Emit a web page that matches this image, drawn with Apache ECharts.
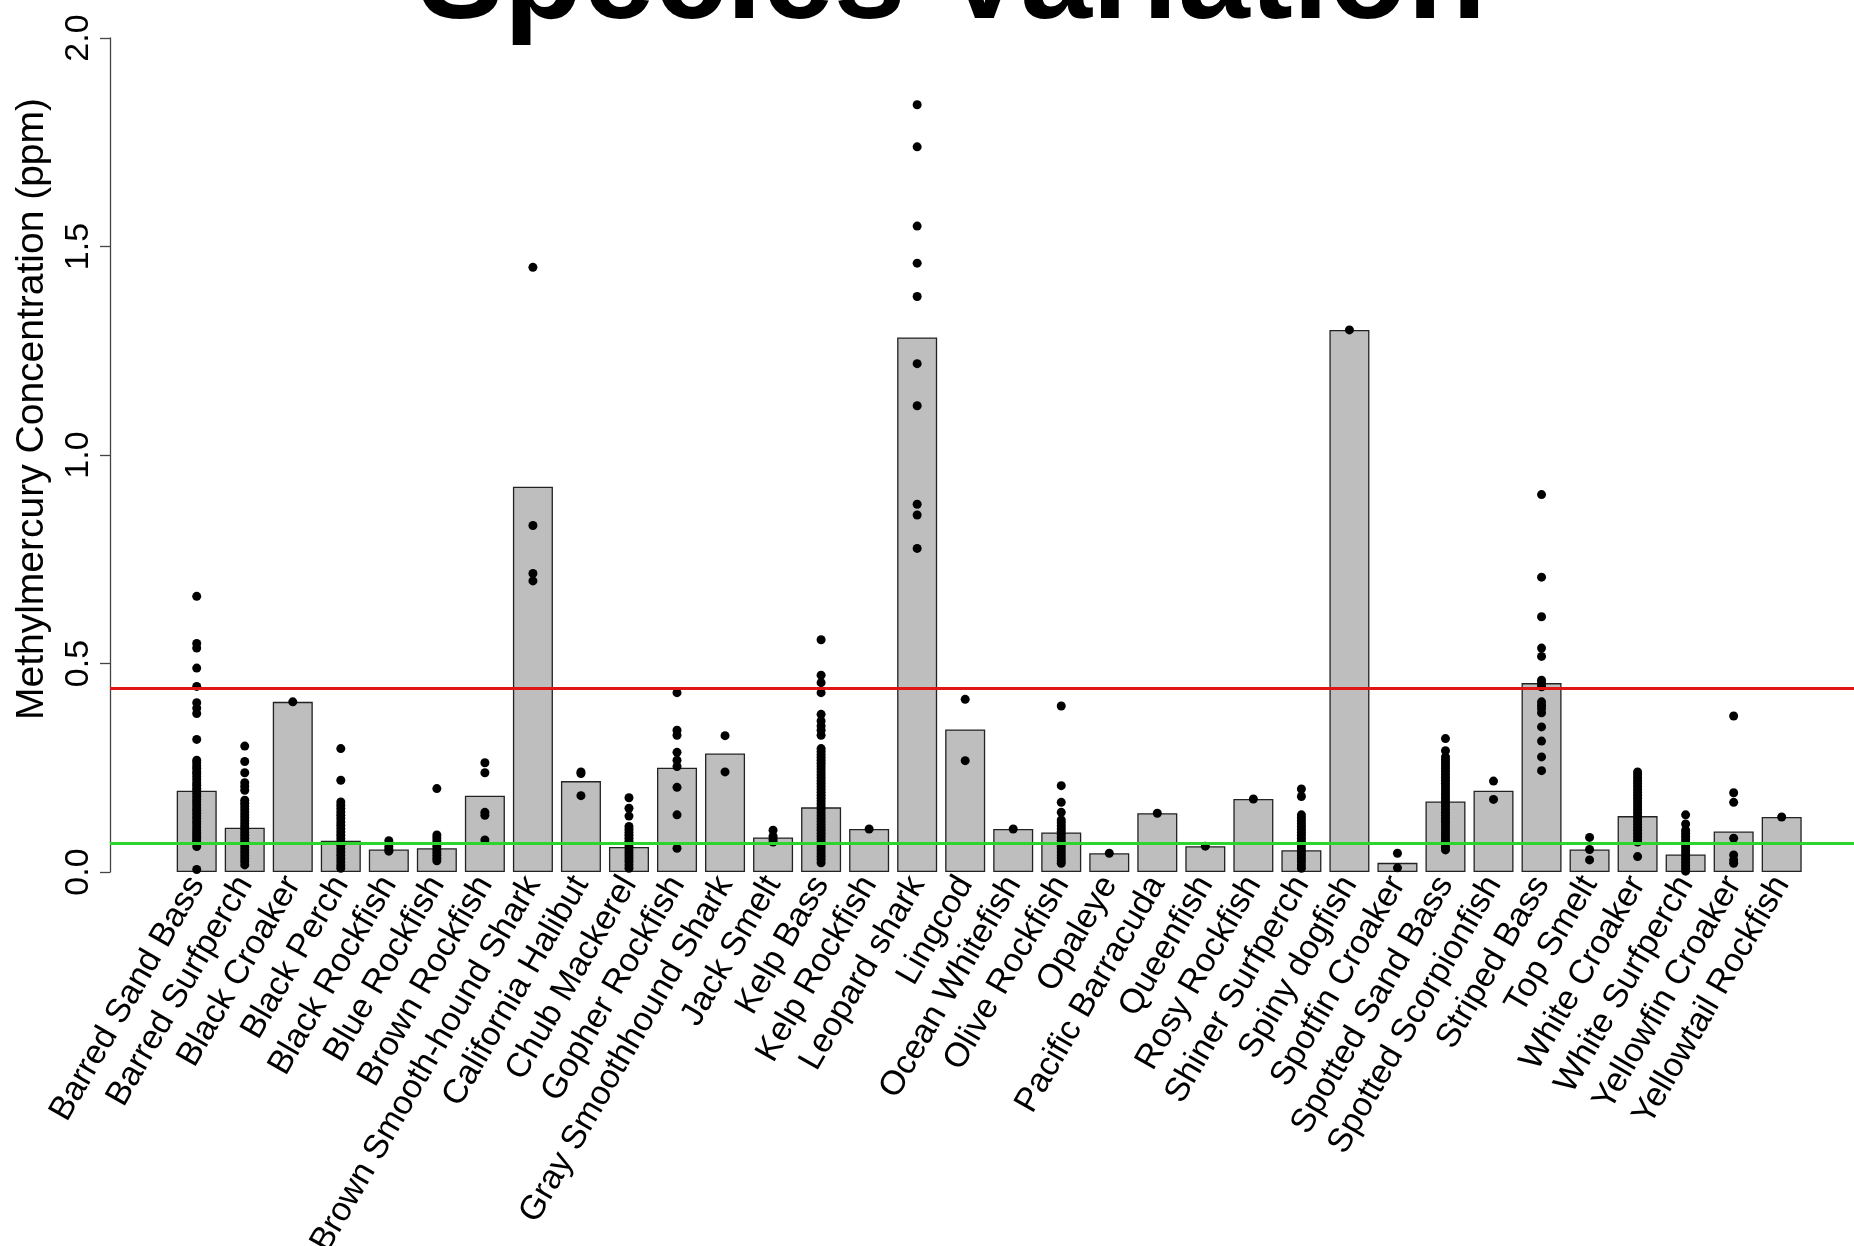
<!DOCTYPE html>
<html>
<head>
<meta charset="utf-8">
<title>Species Variation</title>
<script src="https://cdn.jsdelivr.net/npm/echarts@6/dist/echarts.min.js"></script>
<style>
  html, body { margin: 0; padding: 0; background: #fff; }
  #chart { width: 1854px; height: 1246px; }
</style>
</head>
<body>
<div id="chart"></div>
<script>
// species names along the x axis
var species = [
  'Barred Sand Bass', 'Barred Surfperch', 'Black Croaker', 'Black Perch',
  'Black Rockfish', 'Blue Rockfish', 'Brown Rockfish', 'Brown Smooth-hound Shark',
  'California Halibut', 'Chub Mackerel', 'Gopher Rockfish', 'Gray Smoothhound Shark',
  'Jack Smelt', 'Kelp Bass', 'Kelp Rockfish', 'Leopard shark', 'Lingcod',
  'Ocean Whitefish', 'Olive Rockfish', 'Opaleye', 'Pacific Barracuda', 'Queenfish',
  'Rosy Rockfish', 'Shiner Surfperch', 'Spiny dogfish', 'Spotfin Croaker',
  'Spotted Sand Bass', 'Spotted Scorpionfish', 'Striped Bass', 'Top Smelt',
  'White Croaker', 'White Surfperch', 'Yellowfin Croaker', 'Yellowtail Rockfish'
];

// mean concentration per species (bar height)
var means = [
  0.195, 0.106, 0.408, 0.075, 0.054, 0.057, 0.183, 0.924, 0.218, 0.060,
  0.250, 0.284, 0.083, 0.155, 0.103, 1.282, 0.342, 0.103, 0.095, 0.045,
  0.141, 0.062, 0.175, 0.052, 1.300, 0.022, 0.169, 0.195, 0.453, 0.054,
  0.134, 0.042, 0.097, 0.132
];

// individual samples per species (same order as species)
var samples = [
  // Barred Sand Bass
  [0.661, 0.548, 0.537, 0.489, 0.445, 0.406, 0.393, 0.380, 0.318, 0.268, 0.262, 0.255, 0.249,
   0.241, 0.236, 0.229, 0.222, 0.214, 0.208, 0.201, 0.195, 0.188, 0.181, 0.174, 0.168, 0.161,
   0.154, 0.148, 0.141, 0.134, 0.128, 0.121, 0.115, 0.108, 0.101, 0.095, 0.089, 0.083, 0.077,
   0.072, 0.061, 0.006],
  // Barred Surfperch
  [0.302, 0.265, 0.238, 0.214, 0.205, 0.196, 0.172, 0.165, 0.158, 0.151, 0.144, 0.137, 0.130,
   0.123, 0.116, 0.109, 0.102, 0.095, 0.088, 0.081, 0.074, 0.067, 0.060, 0.053, 0.046, 0.039,
   0.032, 0.025, 0.017],
  // Black Croaker
  [0.408],
  // Black Perch
  [0.296, 0.220, 0.168, 0.160, 0.152, 0.144, 0.136, 0.128, 0.120, 0.112, 0.104, 0.096, 0.088,
   0.080, 0.072, 0.064, 0.056, 0.048, 0.040, 0.032, 0.024, 0.016, 0.009],
  // Black Rockfish
  [0.075, 0.061, 0.055, 0.050],
  // Blue Rockfish
  [0.200, 0.089, 0.082, 0.075, 0.068, 0.061, 0.054, 0.047, 0.040, 0.033, 0.027],
  // Brown Rockfish
  [0.262, 0.238, 0.143, 0.136, 0.077],
  // Brown Smooth-hound Shark
  [1.450, 0.831, 0.716, 0.698],
  // California Halibut
  [0.240, 0.236, 0.183],
  // Chub Mackerel
  [0.178, 0.153, 0.134, 0.109, 0.102, 0.095, 0.088, 0.081, 0.074, 0.067, 0.060, 0.053, 0.046,
   0.039, 0.032, 0.025, 0.017, 0.009],
  // Gopher Rockfish
  [0.430, 0.340, 0.328, 0.287, 0.268, 0.253, 0.203, 0.137, 0.057],
  // Gray Smoothhound Shark
  [0.327, 0.240],
  // Jack Smelt
  [0.100, 0.086, 0.078, 0.072],
  // Kelp Bass
  [0.557, 0.472, 0.454, 0.430, 0.378, 0.362, 0.350, 0.340, 0.328, 0.296, 0.289, 0.282, 0.275,
   0.268, 0.261, 0.254, 0.247, 0.240, 0.233, 0.226, 0.219, 0.212, 0.205, 0.198, 0.191, 0.184,
   0.177, 0.170, 0.163, 0.156, 0.149, 0.142, 0.135, 0.128, 0.121, 0.114, 0.107, 0.100, 0.093,
   0.086, 0.079, 0.072, 0.065, 0.058, 0.051, 0.044, 0.037, 0.030, 0.022],
  // Kelp Rockfish
  [0.103],
  // Leopard shark
  [1.840, 1.739, 1.549, 1.460, 1.380, 1.219, 1.118, 0.882, 0.856, 0.776],
  // Lingcod
  [0.414, 0.267],
  // Ocean Whitefish
  [0.103],
  // Olive Rockfish
  [0.398, 0.207, 0.167, 0.143, 0.125, 0.118, 0.111, 0.104, 0.097, 0.090, 0.083, 0.076, 0.069,
   0.062, 0.055, 0.048, 0.041, 0.034, 0.027, 0.021],
  // Opaleye
  [0.045],
  // Pacific Barracuda
  [0.141],
  // Queenfish
  [0.062],
  // Rosy Rockfish
  [0.175],
  // Shiner Surfperch
  [0.199, 0.181, 0.137, 0.130, 0.123, 0.116, 0.109, 0.102, 0.095, 0.088, 0.081, 0.074, 0.067,
   0.060, 0.053, 0.046, 0.039, 0.032, 0.025, 0.017, 0.009],
  // Spiny dogfish
  [1.300],
  // Spotfin Croaker
  [0.045, 0.010],
  // Spotted Sand Bass
  [0.320, 0.291, 0.276, 0.269, 0.262, 0.255, 0.248, 0.241, 0.234, 0.227, 0.220, 0.213, 0.206,
   0.199, 0.192, 0.185, 0.178, 0.171, 0.164, 0.157, 0.150, 0.143, 0.136, 0.129, 0.122, 0.115,
   0.108, 0.101, 0.094, 0.087, 0.080, 0.073, 0.066, 0.059, 0.053],
  // Spotted Scorpionfish
  [0.218, 0.174],
  // Striped Bass
  [0.905, 0.707, 0.612, 0.537, 0.517, 0.460, 0.452, 0.444, 0.408, 0.400, 0.392, 0.382, 0.348,
   0.314, 0.276, 0.243],
  // Top Smelt
  [0.083, 0.054, 0.029],
  // White Croaker
  [0.240, 0.233, 0.226, 0.219, 0.212, 0.205, 0.198, 0.191, 0.184, 0.177, 0.170, 0.163, 0.156,
   0.149, 0.142, 0.135, 0.128, 0.121, 0.114, 0.107, 0.100, 0.093, 0.086, 0.079, 0.072, 0.037],
  // White Surfperch
  [0.137, 0.115, 0.100, 0.093, 0.086, 0.079, 0.072, 0.065, 0.058, 0.051, 0.044, 0.037, 0.030,
   0.023, 0.016, 0.009, 0.002],
  // Yellowfin Croaker
  [0.374, 0.190, 0.167, 0.081, 0.041, 0.029, 0.021],
  // Yellowtail Rockfish
  [0.132]
];

// reference lines (ppm)
var redLine = 0.44;
var greenLine = 0.07;

// y axis ticks
var yTicks = [0, 0.5, 1.0, 1.5, 2.0];

var FONT = '"Liberation Sans", Arial, Helvetica, sans-serif';

// flatten samples into [categoryIndex, value] points
var points = [];
samples.forEach(function (list, i) {
  list.forEach(function (v) { points.push([i, v]); });
});

var chart = echarts.init(document.getElementById('chart'));

var option = {
  animation: false,
  backgroundColor: '#fff',
  title: {
    text: 'Species Variation',
    left: 952,
    textAlign: 'center',
    top: -82,
    padding: 0,
    textStyle: { fontFamily: FONT, fontSize: 129, fontWeight: 'bold', color: '#000' }
  },
  grid: [
    // bars + points
    { left: 172.7, top: 38, width: 1633, height: 834, outerBoundsMode: 'none', containLabel: false },
    // reference lines + visible y axis (full plot region)
    { left: 110, top: 38, right: 0, height: 834, outerBoundsMode: 'none', containLabel: false }
  ],
  xAxis: [
    {
      gridIndex: 0,
      type: 'category',
      data: species,
      axisLine: { show: false },
      axisTick: { show: false },
      axisLabel: {
        interval: 0,
        rotate: 60,
        margin: 7,
        fontFamily: FONT,
        fontSize: 34,
        color: '#000'
      }
    },
    { gridIndex: 1, type: 'value', min: 0, max: 1, show: false }
  ],
  yAxis: [
    { gridIndex: 0, type: 'value', min: yTicks[0], max: yTicks[yTicks.length - 1], show: false },
    {
      gridIndex: 1,
      type: 'value',
      min: yTicks[0],
      max: yTicks[yTicks.length - 1],
      interval: 0.5,
      name: 'Methylmercury Concentration (ppm)',
      nameLocation: 'middle',
      nameRotate: 90,
      nameGap: 58,
      nameTextStyle: { fontFamily: FONT, fontSize: 39, color: '#000', padding: [0, 0, 0, 92] },
      axisLine: { show: true, lineStyle: { color: '#444', width: 1.3 } },
      axisTick: { show: true, length: 10, lineStyle: { color: '#444', width: 1.3 } },
      axisLabel: {
        rotate: 90,
        margin: 14,
        fontFamily: FONT,
        fontSize: 34,
        color: '#000',
        formatter: function (v) { return v.toFixed(1); }
      },
      splitLine: { show: false }
    }
  ],
  series: [
    {
      type: 'bar',
      xAxisIndex: 0,
      yAxisIndex: 0,
      data: means,
      barWidth: '83.3%',
      itemStyle: { color: '#bebebe', borderColor: '#222', borderWidth: 1.3 },
      z: 2
    },
    {
      type: 'scatter',
      xAxisIndex: 0,
      yAxisIndex: 0,
      data: points,
      symbol: 'circle',
      symbolSize: 9,
      itemStyle: { color: '#000', opacity: 1 },
      z: 3
    },
    {
      type: 'line',
      xAxisIndex: 1,
      yAxisIndex: 1,
      data: [],
      z: 5,
      markLine: {
        silent: true,
        symbol: 'none',
        label: { show: false },
        data: [
          { yAxis: redLine, lineStyle: { color: '#e01515', width: 3, type: 'solid' } },
          { yAxis: greenLine, lineStyle: { color: '#2ed42e', width: 3, type: 'solid' } }
        ]
      }
    }
  ]
};

chart.setOption(option);
</script>
</body>
</html>
